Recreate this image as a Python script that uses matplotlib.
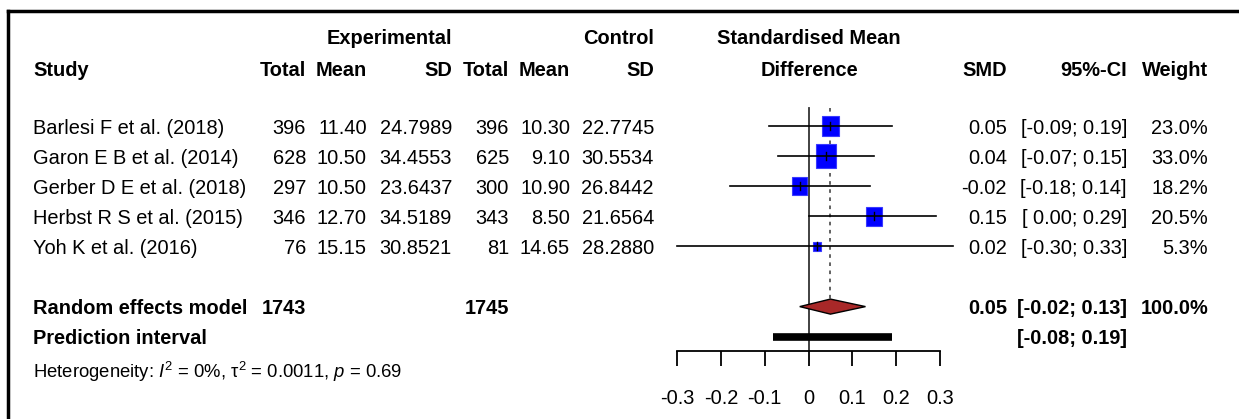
import matplotlib
matplotlib.use("Agg")
import matplotlib.pyplot as plt
import numpy as np
from matplotlib.patches import Rectangle, Polygon
from matplotlib.lines import Line2D
from matplotlib.transforms import blended_transform_factory

# ---- data ----
studies = ["Barlesi F et al. (2018)", "Garon E B et al. (2014)", "Gerber D E et al. (2018)",
           "Herbst R S et al. (2015)", "Yoh K et al. (2016)"]
n_exp = [396, 628, 297, 346, 76]
mean_exp = ["11.40", "10.50", "10.50", "12.70", "15.15"]
sd_exp = ["24.7989", "34.4553", "23.6437", "34.5189", "30.8521"]
n_ctl = [396, 625, 300, 343, 81]
mean_ctl = ["10.30", "9.10", "10.90", "8.50", "14.65"]
sd_ctl = ["22.7745", "30.5534", "26.8442", "21.6564", "28.2880"]
smd = [0.05, 0.04, -0.02, 0.15, 0.02]
ci_lo = [-0.09, -0.07, -0.18, 0.00, -0.30]
ci_hi = [0.19, 0.15, 0.14, 0.29, 0.33]
weight = [23.0, 33.0, 18.2, 20.5, 5.3]

re_smd, re_lo, re_hi = 0.05, -0.02, 0.13
pi_lo, pi_hi = -0.08, 0.19
tot_exp, tot_ctl = 1743, 1745
xticks = [-0.3, -0.2, -0.1, 0, 0.1, 0.2, 0.3]
xtick_labels = ["-0.3", "-0.2", "-0.1", "0", "0.1", "0.2", "0.3"]

# ---- style ----
FONT = "Liberation Sans"
FS = 14.4
plt.rcParams["font.family"] = [FONT, "DejaVu Sans"]
plt.rcParams["mathtext.fontset"] = "custom"
plt.rcParams["mathtext.rm"] = FONT
plt.rcParams["mathtext.it"] = FONT + ":italic"

W, H = 1239, 419
fig = plt.figure(figsize=(W / 100, H / 100), dpi=100)

row_px, row_step = 126, 30.1   # pixel y of first study row, spacing
ax = fig.add_axes([677 / W, 0, 263 / W, 1])
ax.set_xlim(-0.3, 0.3)
ax.set_ylim((H - row_px) / row_step, -row_px / row_step)
ax.patch.set_visible(False)
for s in ["top", "left", "right"]:
    ax.spines[s].set_visible(False)
ax.set_yticks([])

axis_row = (351 - row_px) / row_step
ax.spines["bottom"].set_position(("data", axis_row))
ax.spines["bottom"].set_linewidth(1.3)
ax.set_xticks(xticks)
ax.set_xticklabels(xtick_labels, fontsize=FS)
ax.tick_params(axis="x", direction="out", length=11, width=1.3, pad=16)

top_row = (108 - row_px) / row_step
ax.plot([0, 0], [top_row, axis_row], color="#333333", lw=1.3, clip_on=False)
ax.plot([re_smd, re_smd], [top_row, 6 - 0.25], color="#555555", lw=1.3,
        ls=(0, (2, 2.5)), clip_on=False)

px_x = 0.1 / 43.8      # data x per pixel
px_y = 1 / row_step    # data y per pixel
for i in range(len(studies)):
    side = 3.5 * np.sqrt(weight[i])
    w = side * px_x
    h = 1.2 * side * px_y
    ax.add_patch(Rectangle((smd[i] - w / 2, i - h / 2), w, h, facecolor="#0000ff",
                           edgecolor="#3a3aff", lw=0.8, clip_on=False, zorder=2))
    ax.plot([ci_lo[i], ci_hi[i]], [i, i], color="black", lw=1.2, clip_on=False, zorder=3)
    ax.plot([smd[i], smd[i]], [i - 0.13, i + 0.13], color="black", lw=1.0,
            clip_on=False, zorder=3)

ax.add_patch(Polygon([[re_lo, 6], [re_smd, 6 - 0.25], [re_hi, 6], [re_smd, 6 + 0.25]],
                     closed=True, facecolor="#a82828", edgecolor="black", lw=1.0,
                     clip_on=False, zorder=3))
ax.plot([pi_lo, pi_hi], [7, 7], color="black", lw=5.5, solid_capstyle="butt",
        clip_on=False)

# ---- table text ----
tr = blended_transform_factory(fig.transFigure, ax.transData)


def put(px, row, s, ha="right", bold=False, size=FS):
    fig.text(px / W, row, s, transform=tr, ha=ha, va="center_baseline",
             fontsize=size, fontweight="bold" if bold else "normal")


h1 = (37 - row_px) / row_step
h2 = (68 - row_px) / row_step
put(452, h1, "Experimental", bold=True)
put(654, h1, "Control", bold=True)
put(809, h1, "Standardised Mean", ha="center", bold=True)
put(33, h2, "Study", ha="left", bold=True)
for x, s in [(306, "Total"), (367, "Mean"), (452, "SD"), (509, "Total"), (570, "Mean"),
             (654, "SD"), (1007, "SMD"), (1127, "95%-CI"), (1208, "Weight")]:
    put(x, h2, s, bold=True)
put(809, h2, "Difference", ha="center", bold=True)

for i in range(len(studies)):
    put(33, i, studies[i], ha="left")
    put(306, i, str(n_exp[i]))
    put(367, i, mean_exp[i])
    put(452, i, sd_exp[i])
    put(509, i, str(n_ctl[i]))
    put(570, i, mean_ctl[i])
    put(654, i, sd_ctl[i])
    put(1007, i, f"{smd[i]:.2f}")
    lo = f"{ci_lo[i]:.2f}" if ci_lo[i] < 0 else f" {ci_lo[i]:.2f}"
    put(1127, i, f"[{lo}; {ci_hi[i]:.2f}]")
    put(1208, i, f"{weight[i]:.1f}%")

put(33, 6, "Random effects model", ha="left", bold=True)
put(306, 6, str(tot_exp), bold=True)
put(509, 6, str(tot_ctl), bold=True)
put(1007, 6, f"{re_smd:.2f}", bold=True)
put(1127, 6, f"[{re_lo:.2f}; {re_hi:.2f}]", bold=True)
put(1208, 6, "100.0%", bold=True)
put(33, 7, "Prediction interval", ha="left", bold=True)
put(1127, 7, f"[{pi_lo:.2f}; {pi_hi:.2f}]", bold=True)
put(33, (369 - row_px) / row_step,
    r"Heterogeneity: $I^2$ = 0%, τ$^2$ = 0.0011, $p$ = 0.69", ha="left", size=13.3)

# frame (cropped box)
fig.add_artist(Line2D([8 / W, 1], [1 - 11 / H, 1 - 11 / H], color="black", lw=2.5))
fig.add_artist(Line2D([8 / W, 8 / W], [0, 1 - 11 / H], color="black", lw=2.5))

fig.savefig("out.png", dpi=100)
